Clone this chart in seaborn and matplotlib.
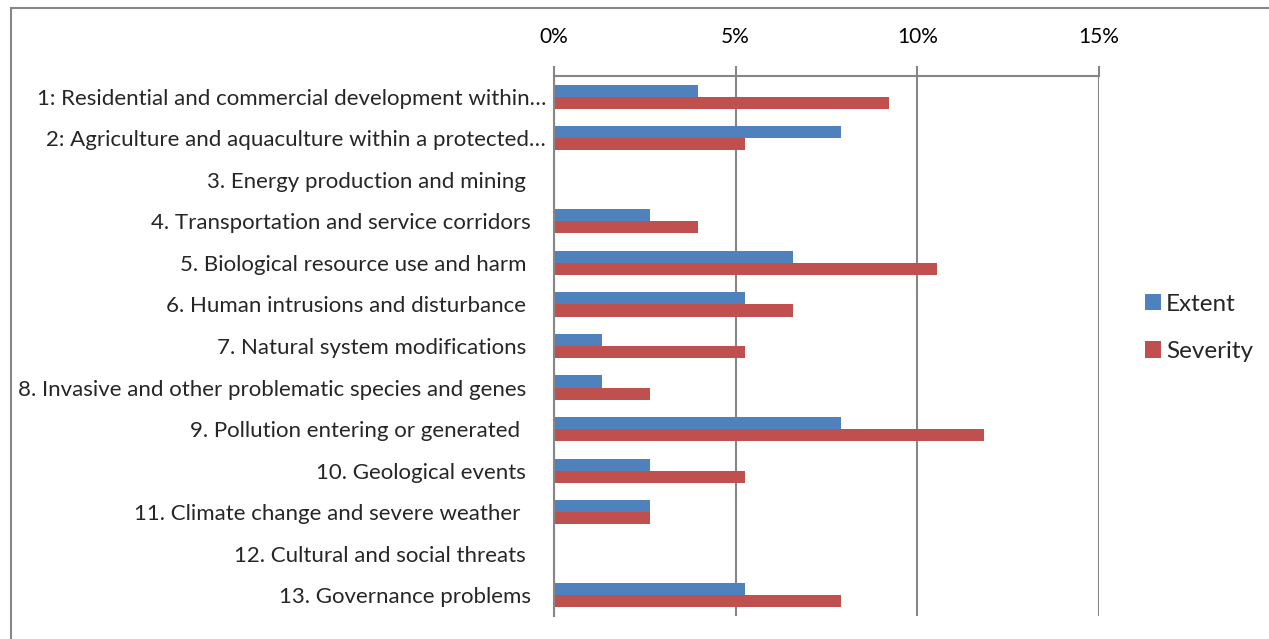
import numpy as np
import pandas as pd
import matplotlib
matplotlib.use("Agg")
import matplotlib.pyplot as plt
from matplotlib.patches import Rectangle
import seaborn as sns

categories = [
    "1: Residential and commercial development within\u2026",
    "2: Agriculture and aquaculture within a protected\u2026",
    "3. Energy production and mining",
    "4. Transportation and service corridors",
    "5. Biological resource use and harm",
    "6. Human intrusions and disturbance",
    "7. Natural system modifications",
    "8. Invasive and other problematic species and genes",
    "9. Pollution entering or generated",
    "10. Geological events",
    "11. Climate change and severe weather",
    "12. Cultural and social threats",
    "13. Governance problems",
]
extent = [3.95, 7.89, 0, 2.63, 6.58, 5.26, 1.32, 1.32, 7.89, 2.63, 2.63, 0, 5.26]
severity = [9.21, 5.26, 0, 3.95, 10.53, 6.58, 5.26, 2.63, 11.84, 5.26, 2.63, 0, 7.89]
series_names = ["Extent", "Severity"]
x_ticks = [0, 5, 10, 15]
x_ticklabels = ["0%", "5%", "10%", "15%"]

df = pd.DataFrame({
    "category": categories * 2,
    "value": extent + severity,
    "series": [series_names[0]] * len(categories) + [series_names[1]] * len(categories),
})

sns.set_style("white")
plt.rcParams["font.family"] = ["Lato", "DejaVu Sans"]
FS = 16
GRAY = "#868686"

fig = plt.figure(figsize=(12.69, 6.39), dpi=100)
ax = fig.add_axes([554 / 1269, 1 - 616 / 639, (1099 - 554) / 1269, (616 - 76) / 639])

sns.barplot(data=df, y="category", x="value", hue="series", orient="h",
            palette=["#4F81BD", "#C0504D"], width=0.58, ax=ax,
            edgecolor="none", linewidth=0, saturation=1)

ax.set_xlim(0, 15)
ax.set_ylim(len(categories) - 0.5, -0.5)
ax.set_xlabel("")
ax.set_ylabel("")

# x axis on top
ax.xaxis.tick_top()
ax.set_xticks(x_ticks)
ax.set_xticklabels(x_ticklabels, fontsize=15)
ax.tick_params(axis="x", which="major", direction="out", length=7, width=1.5,
               color=GRAY, pad=14, labelcolor="black")
ax.grid(axis="x", color=GRAY, linewidth=1.5)
ax.grid(axis="y", visible=False)
ax.set_axisbelow(True)

# y axis: category separators as minor ticks
ax.set_yticks(np.arange(len(categories)))
ax.set_yticklabels(categories, fontsize=FS)
ax.set_yticks(np.arange(len(categories) + 1) - 0.5, minor=True)
ax.tick_params(axis="y", which="major", length=0)
ax.tick_params(axis="y", which="minor", direction="out", length=6, width=1.5, color=GRAY)
pads_px = [8, 8, 28, 23, 28, 28, 28, 28, 34, 28, 34, 28, 23]
for t, p in zip(ax.yaxis.get_major_ticks(), pads_px):
    t.set_pad(p * 0.72)

for s in ["right", "bottom"]:
    ax.spines[s].set_visible(False)
for s in ["top", "left"]:
    ax.spines[s].set_color(GRAY)
    ax.spines[s].set_linewidth(1.5)

sns.move_legend(ax, "center left", bbox_to_anchor=(1123 / 1269, 1 - 328 / 639),
                bbox_transform=fig.transFigure, frameon=False, title=None,
                fontsize=17.5, handlelength=0.65, handleheight=0.65,
                handletextpad=0.22, labelspacing=1.08)

# outer chart frame
fig.patches.append(Rectangle((11 / 1269, -0.1), 1.2, 1 - 8 / 639 + 0.1,
                             transform=fig.transFigure, fill=False,
                             edgecolor=GRAY, linewidth=1.5))

fig.savefig("out.png", dpi=100)
